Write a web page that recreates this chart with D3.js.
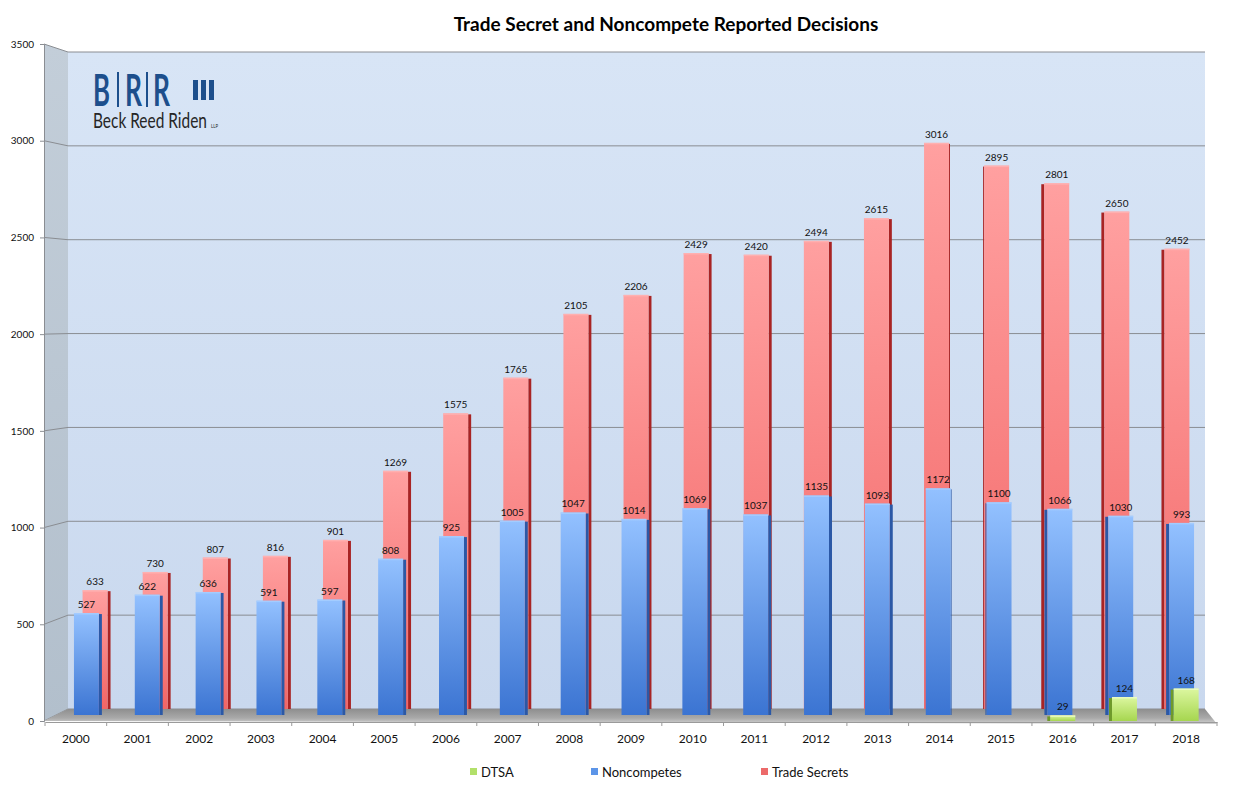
<!DOCTYPE html>
<html>
<head>
<meta charset="utf-8">
<script src="https://cdn.jsdelivr.net/npm/d3@7"></script>
<style>
  body { margin: 0; background: #fff; }
  text { font-family: Lato, "Open Sans", sans-serif; }
</style>
</head>
<body>
<div id="chart"></div>
<script>
// chart data
const years = ['2000','2001','2002','2003','2004','2005','2006','2007','2008','2009',
               '2010','2011','2012','2013','2014','2015','2016','2017','2018'];
const tradeSecrets = [633,730,807,816,901,1269,1575,1765,2105,2206,2429,2420,2494,2615,3016,2895,2801,2650,2452];
const noncompetes = [527,622,636,591,597,808,925,1005,1047,1014,1069,1037,1135,1093,1172,1100,1066,1030,993];
const dtsaYears = ['2016','2017','2018'];
const dtsa = [29,124,168];
const yTicks = [0,500,1000,1500,2000,2500,3000,3500];
const legendItems = ['DTSA','Noncompetes','Trade Secrets'];

const W = 1238, H = 793;
const vanishX = 965;   // where bar sides flip

const svg = d3.select('#chart').append('svg')
    .attr('width', W).attr('height', H);

// three depth planes: back wall (red), middle (blue), front (green + axis)
const yFront = d3.scaleLinear().domain([0,3500]).range([721,44]);
const yMid   = d3.scaleLinear().domain([0,3500]).range([715,38]);
const yBack  = d3.scaleLinear().domain([0,3500]).range([709,52]);

const xFront = d3.scaleBand().domain(years).range([45,1217]).paddingInner(0.595).paddingOuter(0.2975);
const xMid   = d3.scaleBand().domain(years).range([56,1212]).paddingInner(0.59).paddingOuter(0.295);
const xBack  = d3.scaleBand().domain(years).range([65,1207]).paddingInner(0.585).paddingOuter(0.2925);

const wallL = 44, wallB = 68, wallR = 1205, frontR = 1217;

// gradients
const defs = svg.append('defs');
function vGrad(id, stops) {
  const g = defs.append('linearGradient').attr('id', id)
      .attr('x1',0).attr('y1',0).attr('x2',0).attr('y2',1);
  stops.forEach(s => g.append('stop').attr('offset', s[0]).attr('stop-color', s[1]));
}
vGrad('gWall', [[0,'#d8e5f6'],[1,'#c9d8ee']]);
vGrad('gSide', [[0,'#c3ced9'],[1,'#b2bfcc']]);
vGrad('gFloor', [[0,'#8e8e8e'],[0.6,'#a9a9a9'],[1,'#d2d2d2']]);
vGrad('gRed', [[0,'#ffa0a0'],[1,'#f26565']]);
vGrad('gBlue', [[0,'#93c1ff'],[1,'#3b74d2']]);
vGrad('gGreen', [[0,'#dcf7a0'],[1,'#a6d64f']]);

// back wall
svg.append('rect')
  .attr('x', wallB).attr('y', yBack(3500))
  .attr('width', wallR - wallB).attr('height', yBack(0) - yBack(3500))
  .attr('fill', 'url(#gWall)');

// left wall
svg.append('polygon')
  .attr('points', [[wallL,yFront(3500)],[wallB,yBack(3500)],[wallB,yBack(0)],[wallL,yFront(0)]].join(' '))
  .attr('fill', 'url(#gSide)');

// gridlines
const grid = svg.append('g');
grid.selectAll('line.gb').data(yTicks).join('line')
  .attr('x1', wallB).attr('x2', wallR)
  .attr('y1', d => yBack(d)).attr('y2', d => yBack(d))
  .attr('stroke', '#8a8d92').attr('stroke-width', 1);
grid.selectAll('line.gl').data(yTicks).join('line')
  .attr('x1', wallL).attr('x2', wallB)
  .attr('y1', d => yFront(d)).attr('y2', d => yBack(d))
  .attr('stroke', '#8a8d92').attr('stroke-width', 1);

// floor
svg.append('polygon')
  .attr('points', [[wallB,yBack(0)],[wallR,yBack(0)],[frontR,yFront(0)+3],[wallL,yFront(0)]].join(' '))
  .attr('fill', 'url(#gFloor)');

// draws a pseudo-3d bar group
function drawBars(cls, keys, values, x, y, face, side, top) {
  const g = svg.append('g').attr('class', cls);
  const data = keys.map((k, i) => ({k, v: values[i]}));
  const bw = x.bandwidth();
  const sideW = d => {
    const cx = x(d.k) + bw / 2;
    return Math.min(3, Math.abs(cx - vanishX) / 30);
  };
  g.selectAll('rect.side').data(data).join('rect')
    .attr('class', 'side')
    .attr('x', d => (x(d.k) + bw / 2 < vanishX) ? x(d.k) + bw : x(d.k) - sideW(d))
    .attr('y', d => y(d.v) + 1)
    .attr('width', d => sideW(d))
    .attr('height', d => y(0) - y(d.v) - 1)
    .attr('fill', side);
  g.selectAll('rect.face').data(data).join('rect')
    .attr('class', 'face')
    .attr('x', d => x(d.k)).attr('y', d => y(d.v))
    .attr('width', bw).attr('height', d => y(0) - y(d.v))
    .attr('fill', face);
  g.selectAll('rect.top').data(data).join('rect')
    .attr('class', 'top')
    .attr('x', d => x(d.k)).attr('y', d => y(d.v))
    .attr('width', bw).attr('height', 1.5)
    .attr('fill', top).attr('opacity', 0.8);
  g.selectAll('text').data(data).join('text')
    .attr('x', d => x(d.k) + bw / 2)
    .attr('y', d => y(d.v) - 5)
    .attr('text-anchor', 'middle')
    .attr('font-size', 10)
    .attr('fill', '#111')
    .text(d => d.v);
}

drawBars('ts', years, tradeSecrets, xBack, yBack, 'url(#gRed)', '#a82424', '#ffb4b4');
drawBars('nc', years, noncompetes, xMid, yMid, 'url(#gBlue)', '#2b58a6', '#a8ceff');
drawBars('dtsa', dtsaYears, dtsa, xFront, yFront, 'url(#gGreen)', '#6f9a2a', '#eefcc8');

// y axis
const yAxis = svg.append('g')
  .attr('transform', `translate(${wallL},0)`)
  .call(d3.axisLeft(yFront).tickValues(yTicks).tickSize(4).tickPadding(6).tickFormat(d3.format('d')));
yAxis.select('.domain').attr('stroke', '#8a8d92');
yAxis.selectAll('.tick line').attr('stroke', '#8a8d92');
yAxis.selectAll('.tick text').attr('font-size', 10).attr('fill', '#111')
  .attr('font-family', 'Lato, "Open Sans", sans-serif');

// x axis along the front edge of the floor
const axisY = yFront(0) + 1;
const xAxis = svg.append('g')
  .attr('transform', `translate(0,${axisY})`)
  .call(d3.axisBottom(xFront).tickSize(0).tickPadding(12));
xAxis.select('.domain').attr('stroke', '#9a9a9a');
xAxis.selectAll('.tick text').attr('font-size', 12).attr('fill', '#111')
  .attr('font-family', 'Lato, "Open Sans", sans-serif');
const bounds = d3.range(years.length + 1).map(i => 45 + i * xFront.step());
xAxis.selectAll('line.bt').data(bounds).join('line')
  .attr('x1', d => d).attr('x2', d => d)
  .attr('y1', 0).attr('y2', 4)
  .attr('stroke', '#9a9a9a');

// legend
const legendColors = ['#b2e06a', '#5c95e8', '#ec6a6a'];
const legendX = [470, 591, 761];
const legend = svg.append('g').selectAll('g').data(legendItems).join('g')
  .attr('transform', (d, i) => `translate(${legendX[i]},772)`);
legend.append('rect')
  .attr('x', 0).attr('y', -4).attr('width', 7).attr('height', 7)
  .attr('fill', (d, i) => legendColors[i]);
legend.append('text')
  .attr('x', 11).attr('y', 4.5)
  .attr('font-size', 13).attr('fill', '#111')
  .text(d => d);

// title
svg.append('text')
  .attr('x', 666).attr('y', 31)
  .attr('text-anchor', 'middle')
  .attr('font-size', 19).attr('font-weight', 'bold').attr('fill', '#000')
  .text('Trade Secret and Noncompete Reported Decisions');

// logo - text squeezed to a target width with a horizontal scale
const logoFont = '"Liberation Sans Narrow", "DejaVu Sans Condensed", sans-serif';
function squeezed(str, lx, ly, size, width, color, weight) {
  const t = svg.append('text')
    .attr('x', 0).attr('y', 0)
    .attr('font-family', logoFont).attr('font-size', size)
    .attr('font-weight', weight || 'normal')
    .attr('fill', color)
    .text(str);
  const natural = t.node().getComputedTextLength();
  t.attr('transform', `translate(${lx},${ly}) scale(${width / natural},1)`);
}
[['B',93],['R',125],['R',153]].forEach(([ch, lx]) => squeezed(ch, lx, 106, 44, 17, '#1d4f8c', 'bold'));
[117, 146].forEach(lx => svg.append('rect')
  .attr('x', lx).attr('y', 72).attr('width', 2).attr('height', 35).attr('fill', '#1d4f8c'));
[193, 201, 209].forEach(lx => svg.append('rect')
  .attr('x', lx).attr('y', 80).attr('width', 5).attr('height', 20).attr('fill', '#1d4f8c'));
squeezed('Beck Reed Riden', 93, 128, 21, 114, '#262626');
squeezed('LLP', 211, 128, 5, 7, '#262626');
</script>
</body>
</html>
